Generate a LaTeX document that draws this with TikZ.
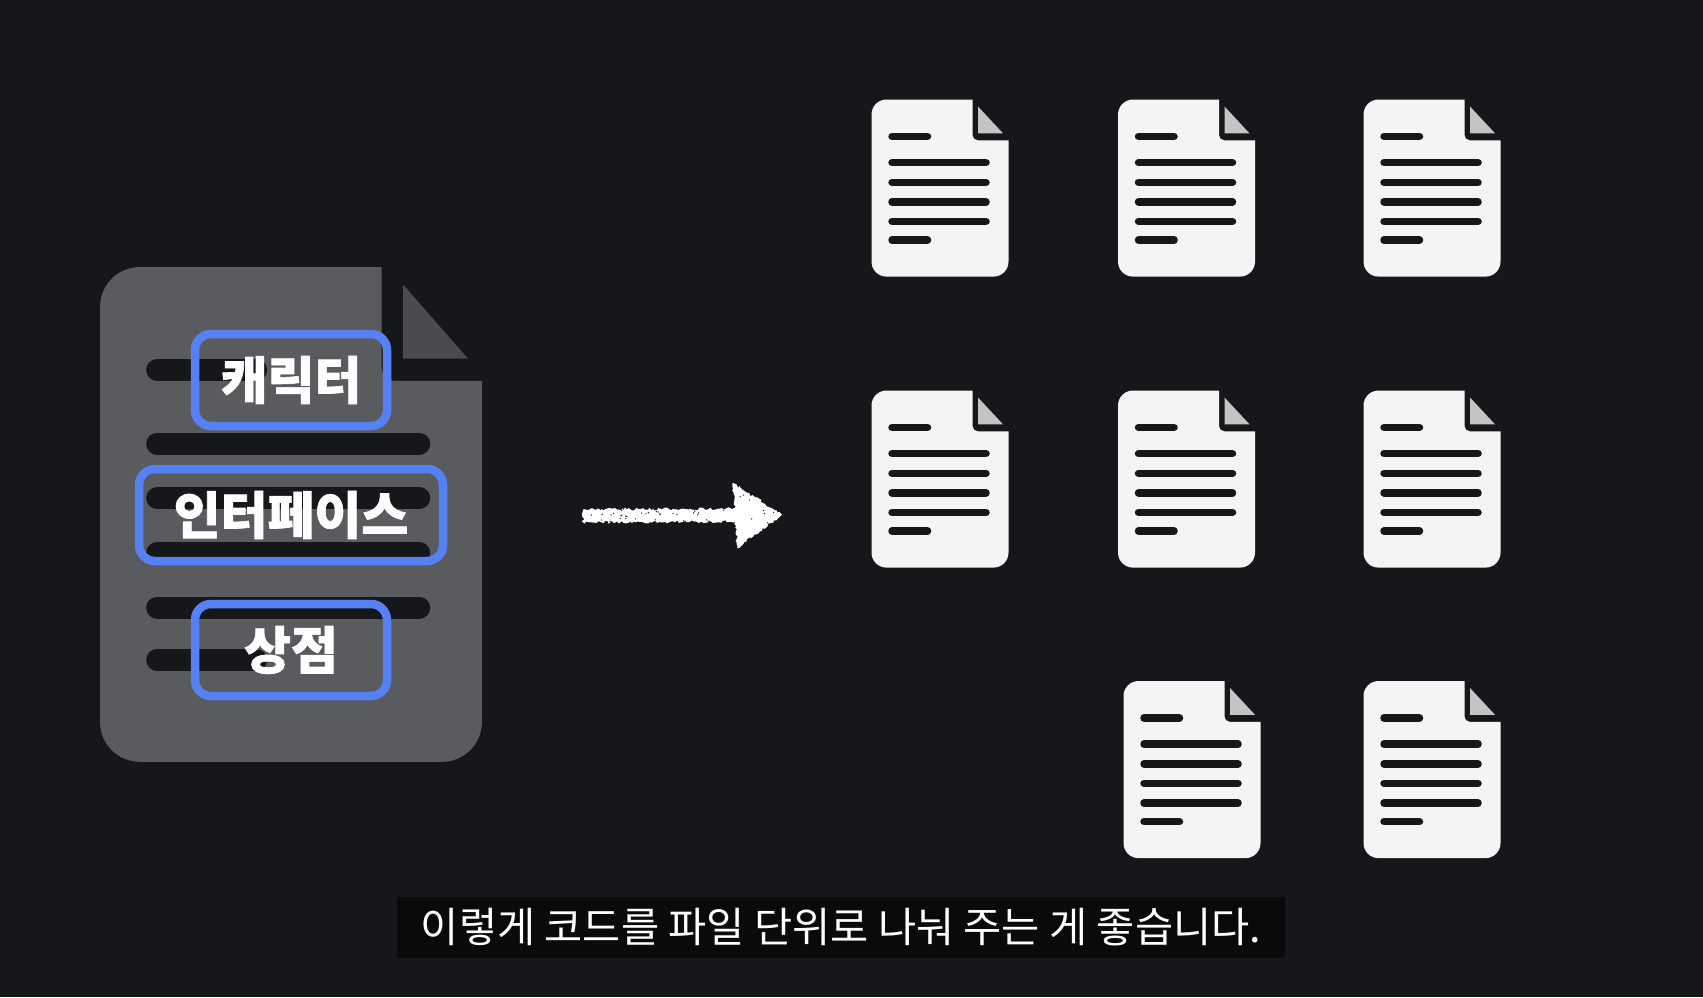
\documentclass[tikz,border=0pt]{standalone}
\usepackage{fontspec}
\setmainfont[BoldFeatures={FakeBold=1.3}]{Noto Sans CJK KR}
\newfontfamily\capfont{Noto Sans CJK KR}
\usetikzlibrary{decorations.pathmorphing,calc}
\definecolor{bgc}{HTML}{15171B}
\definecolor{capbg}{HTML}{0A0A0A}
\definecolor{bluec}{HTML}{5581F2}
\definecolor{bigdoc}{HTML}{5A5B5F}
\definecolor{bigfold}{HTML}{4A4B4F}
\definecolor{smalldoc}{HTML}{F4F4F4}
\definecolor{smallfold}{HTML}{C4C4C4}
\definecolor{linec}{HTML}{15171B}
\tikzset{
  bluebox/.style={draw=bluec,line width=8.5pt,rounded corners=16pt,inner sep=0pt,text=white,font=\fontsize{51}{51}\selectfont\bfseries},
  capbox/.style={fill=capbg,inner sep=0pt,minimum width=888pt,minimum height=61pt,text=white,font=\capfont\fontsize{41.5}{41.5}\selectfont},
  chalk/.style={fill=white,decorate,decoration={random steps,segment length=2pt,amplitude=1.4pt}}
}
\newcommand{\ftri}{(106.5,7) -- (106.5,34) -- (131.5,34)}
% #1 x, #2 y, #3 xscale, #4 yscale, #5 radius, #6 line width, #7 doc colour, #8 fold colour
\newcommand{\docicon}[8]{%
  \begin{scope}[shift={(#1,#2)},x=#3pt,y=-#4pt]
    \fill[#7] (0,30) [rounded corners=#5pt] -- (0,0) [sharp corners] -- (101,0) [rounded corners=0.35*#5pt] -- (101,41) [sharp corners] -- (137,41) [rounded corners=#5pt] -- (137,178) -- (0,178) -- cycle;
    \fill[#8] \ftri -- cycle;
    \begin{scope}[draw=linec,line width=#6pt,line cap=round]
      \draw (20.5,37) -- (56,37);
      \foreach \yy in {63.5,83.2,102.8,122.5} \draw (20.5,\yy) -- (114.5,\yy);
      \draw (20.5,141.3) -- (56,141.3);
    \end{scope}
  \end{scope}}
\begin{document}
\begin{tikzpicture}[x=1pt,y=-1pt]
\fill[bgc] (0,0) rectangle (1703,997);
\useasboundingbox (0,0) rectangle (1703,997);
% big document
\begingroup
\renewcommand{\ftri}{(108.7,6.3) -- (108.7,33) -- (132,33)}
\docicon{100}{267}{2.788}{2.78}{40}{22}{bigdoc}{bigfold}
\endgroup
\node[bluebox,minimum width=192pt,minimum height=92pt] (character) at (291,380) {\raisebox{-2pt}{캐릭터}};
\node[bluebox,minimum width=304pt,minimum height=92pt] (interface) at (291,515) {\raisebox{-2pt}{인터페이스}};
\node[bluebox,minimum width=192pt,minimum height=92pt] (shop) at (291,650) {\raisebox{-1pt}{상점}};
% arrow
\coordinate (arrowstart) at (583,516);
\coordinate (arrowend) at (738,515);
\coordinate (arrowtop) at (733,483);
\coordinate (arrowtip) at (782,515);
\coordinate (arrowbot) at (737,548);
\pgfmathsetseed{7}
\fill[chalk] ($(arrowstart)+(0,-6.5)$) -- ($(arrowend)+(0,-6.5)$) -- ($(arrowend)+(0,6.5)$) -- ($(arrowstart)+(0,6.5)$) -- cycle;
\fill[chalk] (arrowtop) -- (arrowtip) -- (arrowbot) -- cycle;
\foreach \i in {1,...,45}{
  \pgfmathsetmacro{\px}{590+rnd*185}
  \pgfmathsetmacro{\py}{\px<735 ? 515+(rnd-0.5)*13 : 515+(rnd-0.5)*(782-\px)*1.25}
  \fill[bgc] (\px,\py) circle[radius=0.7pt];
}
% small documents
\docicon{871.5}{99.5}{1}{0.995}{15}{7.5}{smalldoc}{smallfold}
\docicon{1118}{99.5}{1}{0.995}{15}{7.5}{smalldoc}{smallfold}
\docicon{1363.5}{99.5}{1}{0.995}{15}{7.5}{smalldoc}{smallfold}
\docicon{871.5}{390.5}{1}{0.995}{15}{7.5}{smalldoc}{smallfold}
\docicon{1118}{390.5}{1}{0.995}{15}{7.5}{smalldoc}{smallfold}
\docicon{1363.5}{390.5}{1}{0.995}{15}{7.5}{smalldoc}{smallfold}
\docicon{1123.5}{681}{1}{0.995}{15}{7.5}{smalldoc}{smallfold}
\docicon{1363.5}{681}{1}{0.995}{15}{7.5}{smalldoc}{smallfold}
% caption
\node[capbox] (caption) at (841,927.5) {이렇게 코드를 파일 단위로 나눠 주는 게 좋습니다.};
\end{tikzpicture}
\end{document}
